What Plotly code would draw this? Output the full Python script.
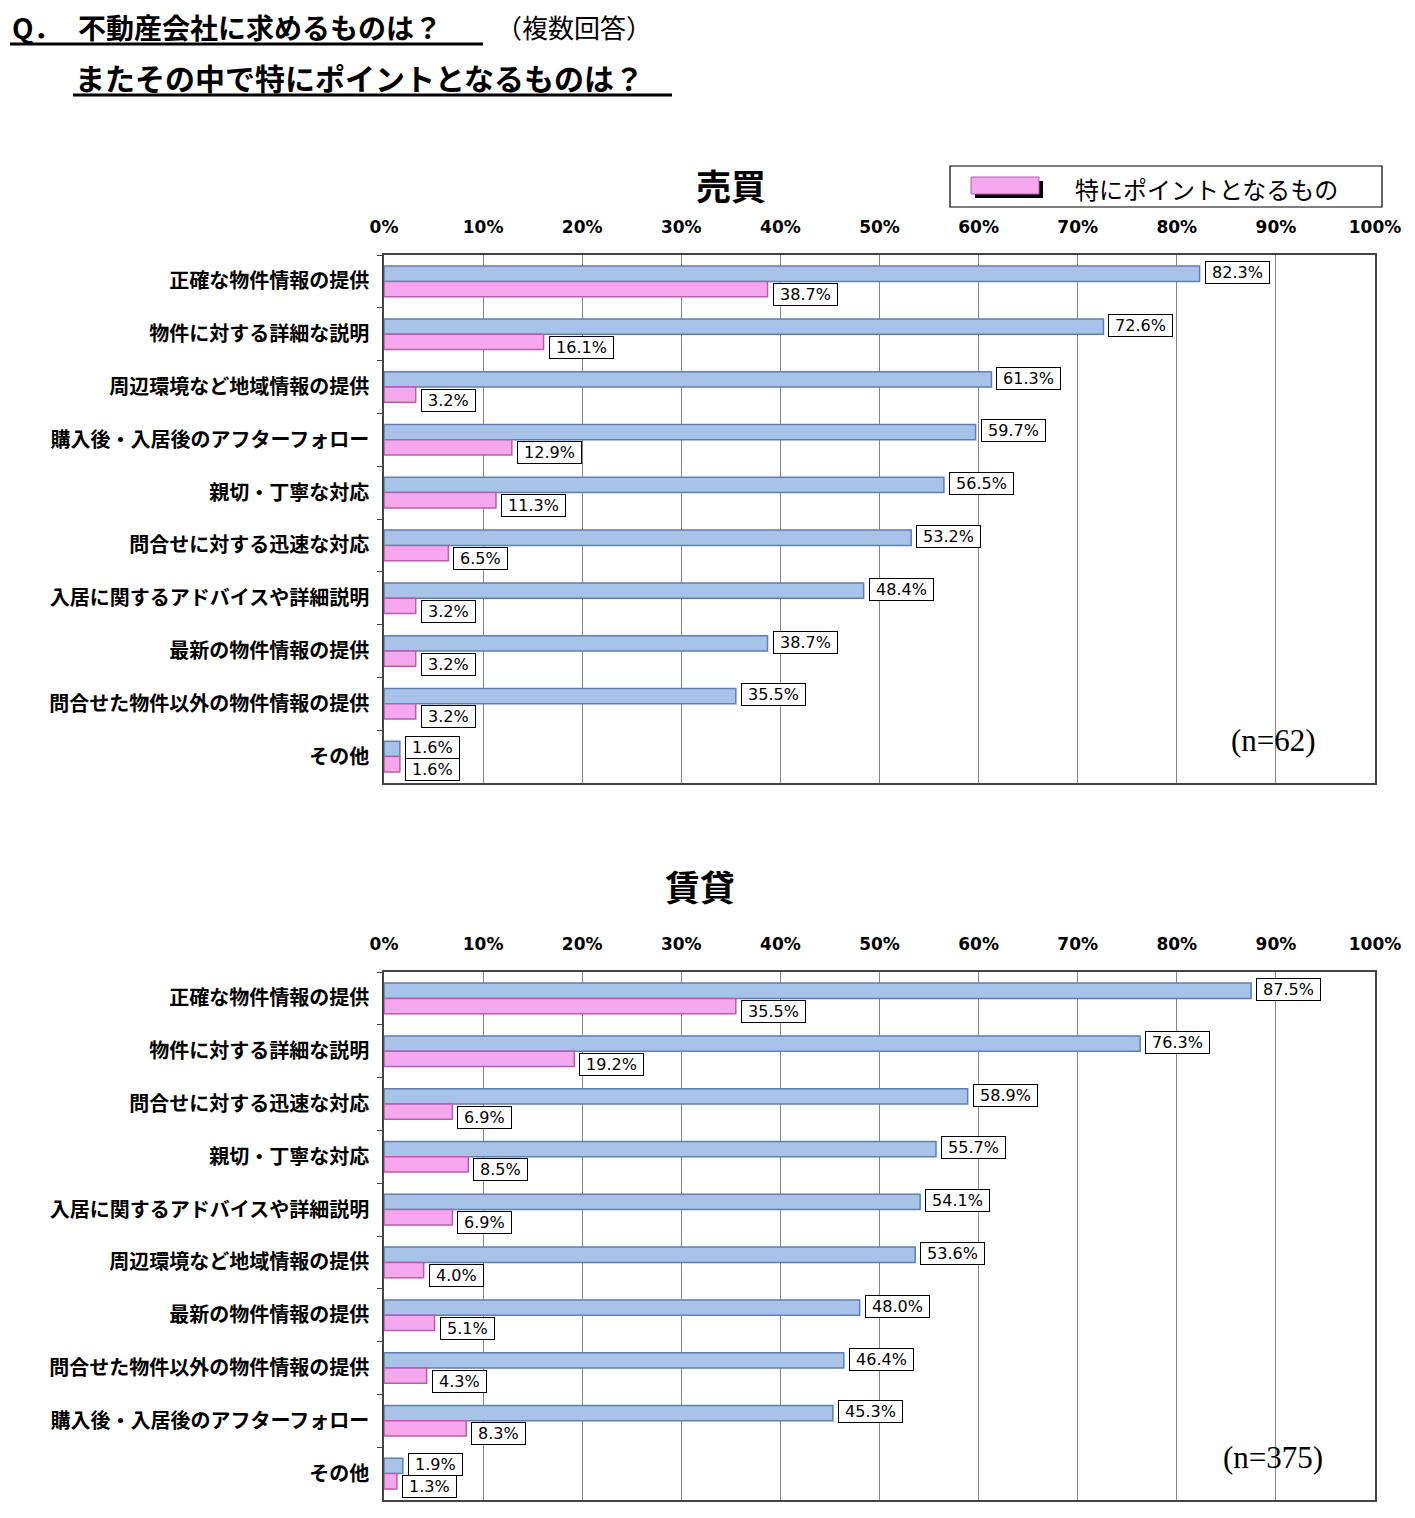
import plotly.graph_objects as go

# --- data ---
baibai_items = ['正確な物件情報の提供', '物件に対する詳細な説明', '周辺環境など地域情報の提供',
                '購入後・入居後のアフターフォロー', '親切・丁寧な対応', '問合せに対する迅速な対応',
                '入居に関するアドバイスや詳細説明', '最新の物件情報の提供',
                '問合せた物件以外の物件情報の提供', 'その他']
baibai_all = [82.3, 72.6, 61.3, 59.7, 56.5, 53.2, 48.4, 38.7, 35.5, 1.6]
baibai_point = [38.7, 16.1, 3.2, 12.9, 11.3, 6.5, 3.2, 3.2, 3.2, 1.6]

chintai_items = ['正確な物件情報の提供', '物件に対する詳細な説明', '問合せに対する迅速な対応',
                 '親切・丁寧な対応', '入居に関するアドバイスや詳細説明', '周辺環境など地域情報の提供',
                 '最新の物件情報の提供', '問合せた物件以外の物件情報の提供',
                 '購入後・入居後のアフターフォロー', 'その他']
chintai_all = [87.5, 76.3, 58.9, 55.7, 54.1, 53.6, 48.0, 46.4, 45.3, 1.9]
chintai_point = [35.5, 19.2, 6.9, 8.5, 6.9, 4.0, 5.1, 4.3, 8.3, 1.3]

x_ticks = list(range(0, 101, 10))
x_tick_labels = [f'{v}%' for v in x_ticks]

# --- page geometry (page pixels; the html body adds an 8px margin) ---
PAGE_W, PAGE_H = 1415, 1518
OFF = 8
W, H = PAGE_W - OFF, PAGE_H - OFF
PLOT_L, PLOT_R, PLOT_T, PLOT_B = 384, 1375, 255, 1500   # page coords of the plot area
L, R = PLOT_L - OFF, PAGE_W - PLOT_R
T, B = PLOT_T - OFF, PAGE_H - PLOT_B
PW = PLOT_R - PLOT_L
PH = PLOT_B - PLOT_T


def px_x(p):
    return (p - PLOT_L) / PW


def px_y(p):
    return (PLOT_B - p) / PH


JP = 'Noto Sans CJK JP'
NUM = 'DejaVu Sans'
BLUE = '#a8c3e8'
BLUE_LINE = '#5f7fae'
PINK = '#f5a8ee'
PINK_LINE = '#b85cae'

fig = go.Figure()

panels = [
    ('x', 'y', baibai_items, baibai_all, baibai_point),
    ('x2', 'y2', chintai_items, chintai_all, chintai_point),
]

annotations = []
for xa, ya, items, v_all, v_point in panels:
    fig.add_trace(go.Bar(y=items, x=v_all, orientation='h', xaxis=xa, yaxis=ya,
                         marker=dict(color=BLUE, line=dict(color=BLUE_LINE, width=1.5)),
                         showlegend=False, hoverinfo='x+y'))
    fig.add_trace(go.Bar(y=items, x=v_point, orientation='h', xaxis=xa, yaxis=ya,
                         marker=dict(color=PINK, line=dict(color=PINK_LINE, width=1.5)),
                         showlegend=False, hoverinfo='x+y'))
    # boxed value labels
    for vals, shift in ((v_all, 9), (v_point, -13)):
        for cat, v in zip(items, vals):
            annotations.append(dict(
                x=v, y=cat, xref=xa, yref=ya, text=f' {v:.1f}% ', showarrow=False,
                xanchor='left', xshift=5, yshift=shift,
                font=dict(family=NUM, size=16, color='black'),
                bgcolor='white', bordercolor='black', borderwidth=1, borderpad=1))

axis_x = dict(range=[0, 100], side='top', tickvals=x_ticks, ticktext=x_tick_labels,
              showgrid=True, gridcolor='#858585', gridwidth=1, zeroline=False,
              showline=True, linecolor='#444', linewidth=1.5, mirror=True,
              tickfont=dict(family=NUM, size=17, color='black', weight='bold'),
              ticks='', ticklabelstandoff=13, fixedrange=True)
axis_y = dict(autorange='reversed', showgrid=False, showline=True, linecolor='#444',
              linewidth=1.5, mirror=True, ticks='outside', tickson='boundaries',
              ticklen=5, tickcolor='#444', ticklabelstandoff=9,
              tickfont=dict(family=JP, size=20, color='black', weight='bold'),
              fixedrange=True)

top_dom = [px_y(783), 1]
bot_dom = [0, px_y(972)]

fig.update_layout(
    width=W, height=H,
    margin=dict(l=L, r=R, t=T, b=B),
    paper_bgcolor='white', plot_bgcolor='white',
    barmode='group', bargap=0.42, bargroupgap=0,
    xaxis=dict(axis_x, anchor='y'),
    yaxis=dict(axis_y, domain=top_dom, anchor='x'),
    xaxis2=dict(axis_x, anchor='y2'),
    yaxis2=dict(axis_y, domain=bot_dom, anchor='x2'),
)

# titles and notes
texts = [
    ('<b>Q．</b>', 10, 27, 28, JP, 'left'),
    ('<b>不動産会社に求めるものは？</b>', 76, 27, 28, JP, 'left'),
    ('（複数回答）', 494, 27, 26, JP, 'left'),
    ('<b>またその中で特にポイントとなるものは？</b>', 73, 77, 30, JP, 'left'),
    ('<b>売買</b>', 731, 185, 35, JP, 'center'),
    ('<b>賃貸</b>', 700, 885, 35, JP, 'center'),
    ('特にポイントとなるもの', 1073, 189, 24, JP, 'left'),
    ('(n=62)', 1273, 740, 31, 'Liberation Serif', 'center'),
    ('(n=375)', 1273, 1457, 31, 'Liberation Serif', 'center'),
]
for txt, x, y, size, fam, anchor in texts:
    annotations.append(dict(text=txt, x=px_x(x), y=px_y(y), xref='paper', yref='paper',
                            xanchor=anchor, yanchor='middle', showarrow=False,
                            font=dict(family=fam, size=size, color='black')))

shapes = [
    # title underlines
    dict(type='line', x0=px_x(10), x1=px_x(483), y0=px_y(44), y1=px_y(44),
         line=dict(color='black', width=3)),
    dict(type='line', x0=px_x(73), x1=px_x(672), y0=px_y(95), y1=px_y(95),
         line=dict(color='black', width=3)),
    # legend box
    dict(type='rect', x0=px_x(950), x1=px_x(1382), y0=px_y(166), y1=px_y(207),
         line=dict(color='black', width=1.2), fillcolor='white'),
    dict(type='rect', x0=px_x(975), x1=px_x(1043), y0=px_y(181), y1=px_y(198),
         line=dict(width=0), fillcolor='black'),
    dict(type='rect', x0=px_x(971), x1=px_x(1039), y0=px_y(177), y1=px_y(194),
         line=dict(color=PINK_LINE, width=1), fillcolor=PINK),
]
for s in shapes:
    s.update(xref='paper', yref='paper')

fig.update_layout(annotations=annotations, shapes=shapes)

fig.write_html('out.html')
